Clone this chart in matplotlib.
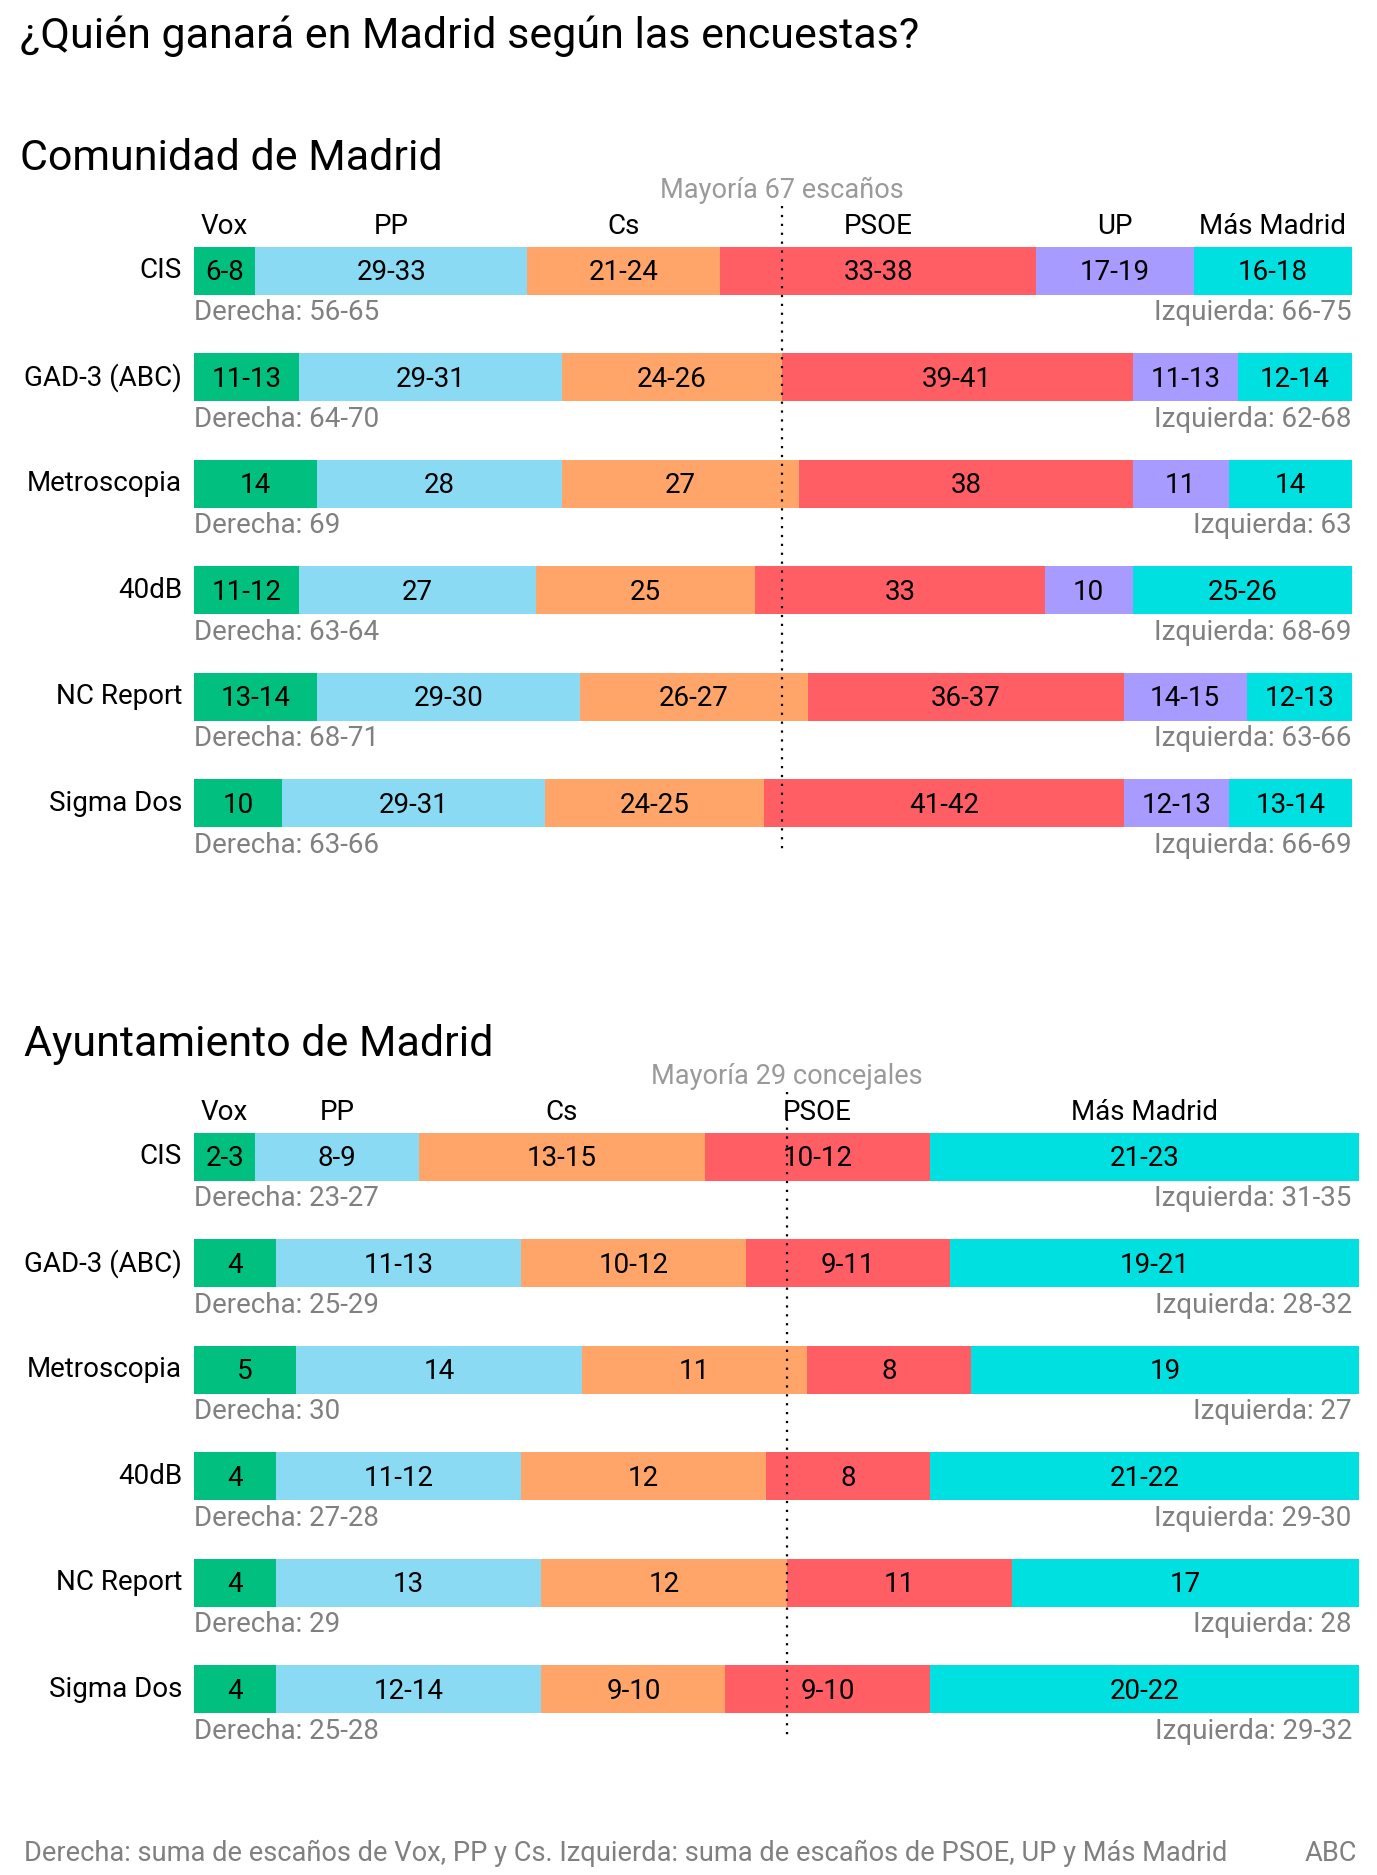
import matplotlib
matplotlib.use("Agg")
import matplotlib.pyplot as plt
import numpy as np

plt.rcParams['font.family'] = ['Roboto', 'DejaVu Sans']

# ---------------- data ----------------
pollsters = ['CIS', 'GAD-3 (ABC)', 'Metroscopia', '40dB', 'NC Report', 'Sigma Dos']

com_parties = ['Vox', 'PP', 'Cs', 'PSOE', 'UP', 'Más Madrid']
com_labels = [
    ['6-8', '29-33', '21-24', '33-38', '17-19', '16-18'],
    ['11-13', '29-31', '24-26', '39-41', '11-13', '12-14'],
    ['14', '28', '27', '38', '11', '14'],
    ['11-12', '27', '25', '33', '10', '25-26'],
    ['13-14', '29-30', '26-27', '36-37', '14-15', '12-13'],
    ['10', '29-31', '24-25', '41-42', '12-13', '13-14'],
]
# seat estimates
com_seats = [
    [7, 31, 22, 36, 18, 18],
    [12, 30, 25, 40, 12, 13],
    [14, 28, 27, 38, 11, 14],
    [12, 27, 25, 33, 10, 25],
    [14, 30, 26, 36, 14, 12],
    [10, 30, 25, 41, 12, 14],
]
com_derecha = ['56-65', '64-70', '69', '63-64', '68-71', '63-66']
com_izquierda = ['66-75', '62-68', '63', '68-69', '63-66', '66-69']
com_total = 132
com_majority = 67

ayu_parties = ['Vox', 'PP', 'Cs', 'PSOE', 'Más Madrid']
ayu_labels = [
    ['2-3', '8-9', '13-15', '10-12', '21-23'],
    ['4', '11-13', '10-12', '9-11', '19-21'],
    ['5', '14', '11', '8', '19'],
    ['4', '11-12', '12', '8', '21-22'],
    ['4', '13', '12', '11', '17'],
    ['4', '12-14', '9-10', '9-10', '20-22'],
]
ayu_seats = [
    [3, 8, 14, 11, 21],
    [4, 12, 11, 10, 20],
    [5, 14, 11, 8, 19],
    [4, 12, 12, 8, 21],
    [4, 13, 12, 11, 17],
    [4, 13, 9, 10, 21],
]
ayu_derecha = ['23-27', '25-29', '30', '27-28', '29', '25-28']
ayu_izquierda = ['31-35', '28-32', '27', '29-30', '28', '29-32']
ayu_total = 57
ayu_majority = 29

party_colors = {
    'Vox': '#00BF7F', 'PP': '#8BDAF4', 'Cs': '#FFA56A',
    'PSOE': '#FF5E64', 'UP': '#A89BFF', 'Más Madrid': '#00E0E0',
}

title = '¿Quién ganará en Madrid según las encuestas?'
com_title = 'Comunidad de Madrid'
ayu_title = 'Ayuntamiento de Madrid'
com_major_text = 'Mayoría 67 escaños'
ayu_major_text = 'Mayoría 29 concejales'
footer = 'Derecha: suma de escaños de Vox, PP y Cs. Izquierda: suma de escaños de PSOE, UP y Más Madrid'
source = 'ABC'

# ---------------- layout (reference units) ----------------
W, H = 1150.0, 1566.0
PITCH = 89.0
GRAY = '#808080'
LGRAY = '#9A9A9A'
S = 1377 / W   # px per reference unit

fig = plt.figure(figsize=(13.77, 18.75), dpi=100)
fig.patch.set_facecolor('white')


def fx(x):
    return x / W


def fy(y):
    return 1 - y / H


def panel(x0, x1, yc0, parties, labels, seats, der, izq, total, majority,
          major_text, izq_shift):
    n = len(pollsters)
    top = yc0 - PITCH / 2
    bot = yc0 + (n - 1) * PITCH + PITCH / 2
    ax = fig.add_axes([fx(x0), fy(bot), (x1 - x0) / W, (bot - top) / H])
    ax.set_xlim(0, total)
    ax.set_ylim(n - 0.5, -0.5)
    ax.axis('off')
    bh = 40 / PITCH
    for i in range(n):
        vals = np.array(seats[i], dtype=float)
        vals = vals / vals.sum() * total
        lefts = np.concatenate([[0], np.cumsum(vals)[:-1]])
        for j, p in enumerate(parties):
            ax.barh(i, vals[j], left=lefts[j], height=bh, color=party_colors[p],
                    edgecolor='none')
            ax.text(lefts[j] + vals[j] / 2, i + 0.02, labels[i][j], ha='center',
                    va='center', fontsize=20, color='black')
            if i == 0:
                ax.text(lefts[j] + vals[j] / 2, i - 37 / PITCH, p, ha='center',
                        va='center', fontsize=20, color='black')
        ax.annotate(pollsters[i], xy=(0, i), xytext=(-10 * S, 0),
                    textcoords='offset pixels', ha='right', va='center',
                    fontsize=20, color='black')
        ax.text(0, i + 35 / PITCH, 'Derecha: ' + der[i], ha='left', va='center',
                fontsize=20, color=GRAY)
        ax.annotate('Izquierda: ' + izq[i], xy=(total, i + 35 / PITCH),
                    xytext=(-izq_shift * S, 0), textcoords='offset pixels',
                    ha='right', va='center', fontsize=20, color=GRAY)
    ax.plot([majority, majority], [-54 / PITCH, n - 1 + 39 / PITCH], color='black',
            linestyle=(0, (1, 3)), linewidth=1.6, clip_on=False, zorder=5)
    ax.text(majority, -67 / PITCH, major_text, ha='center', va='center',
            fontsize=19.5, color=LGRAY)
    return ax


fig.text(fx(17), fy(30), title, ha='left', va='center', fontsize=31, color='black')
fig.text(fx(17), fy(132), com_title, ha='left', va='center', fontsize=31, color='black')
fig.text(fx(20), fy(872), ayu_title, ha='left', va='center', fontsize=31, color='black')

panel(162, 1129, 226, com_parties, com_labels, com_seats, com_derecha, com_izquierda,
      com_total, com_majority, com_major_text, 0)
panel(162, 1135, 966, ayu_parties, ayu_labels, ayu_seats, ayu_derecha, ayu_izquierda,
      ayu_total, ayu_majority, ayu_major_text, 6)

fig.text(fx(20), fy(1548), footer, ha='left', va='center', fontsize=19.6, color=GRAY)
fig.text(fx(1133), fy(1548), source, ha='right', va='center', fontsize=19.6, color=GRAY)

fig.savefig('out.png', dpi=100, facecolor='white')
